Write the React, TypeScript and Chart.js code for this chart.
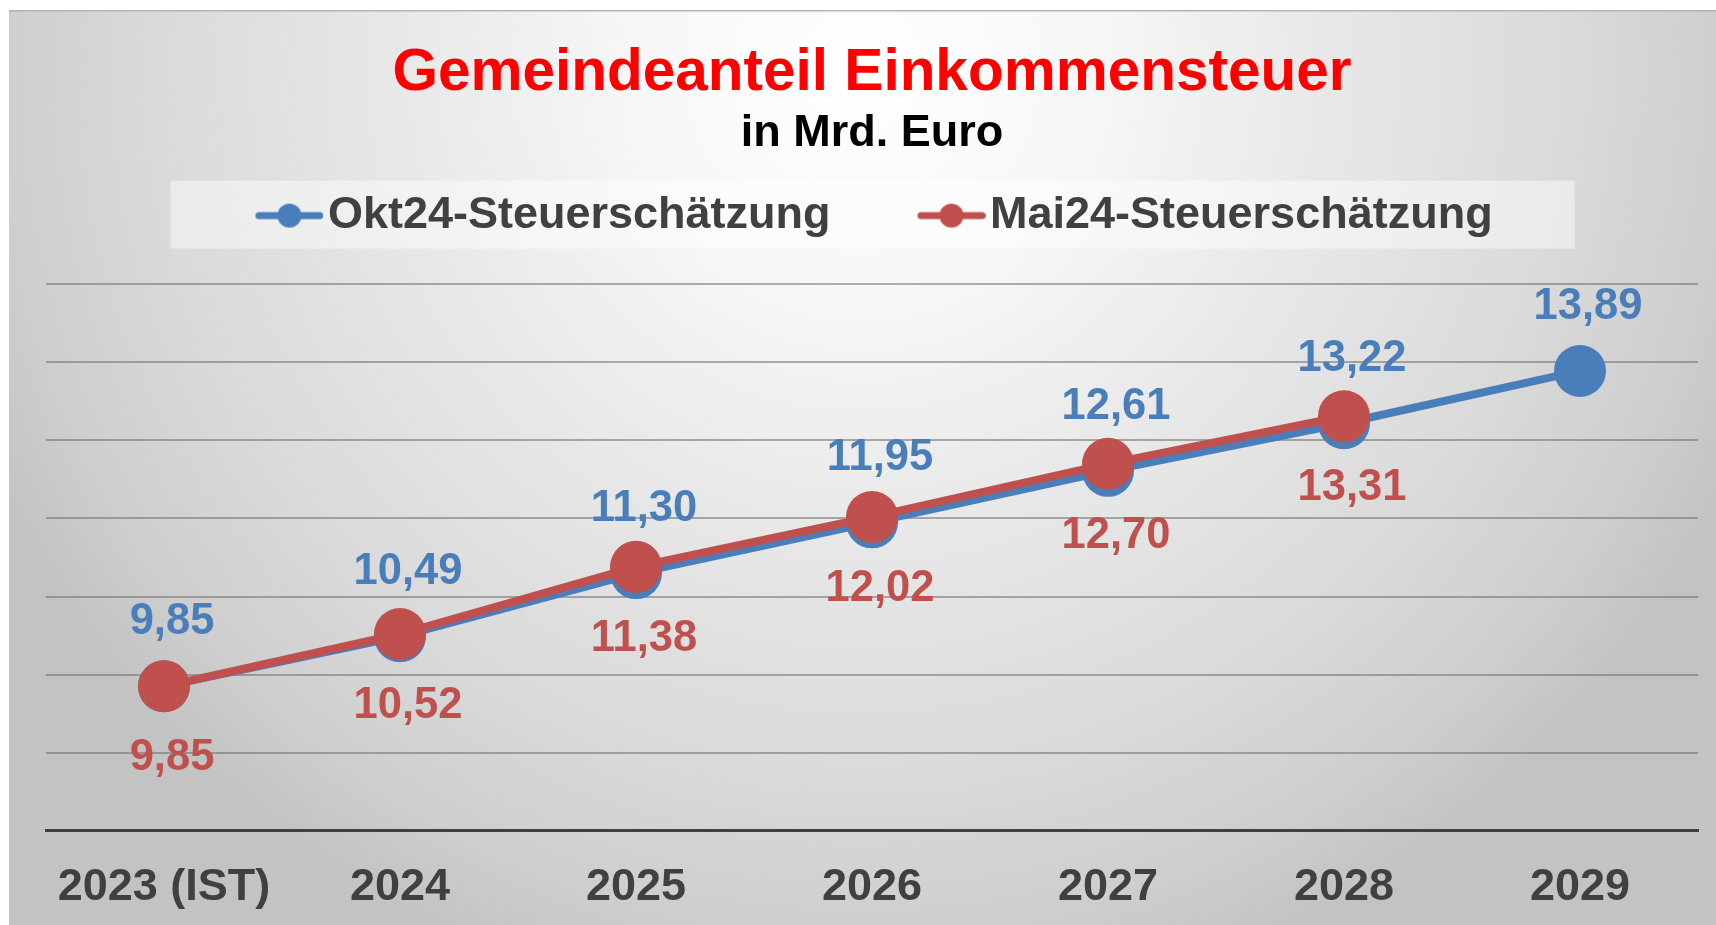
import React, { useEffect, useRef } from 'react';
import { Chart, registerables } from 'chart.js';

Chart.register(...registerables);

// ---- data ----
const categories = ['2023 (IST)', '2024', '2025', '2026', '2027', '2028', '2029'];
const okt24Values: (number | null)[] = [9.85, 10.49, 11.3, 11.95, 12.61, 13.22, 13.89];
const mai24Values: (number | null)[] = [9.85, 10.52, 11.38, 12.02, 12.7, 13.31, null];
const seriesNames = ['Okt24-Steuerschätzung', 'Mai24-Steuerschätzung'];
const yMin = 8;
const yMax = 15;
const yStep = 1;
const titleText = 'Gemeindeanteil Einkommensteuer';
const subtitleText = 'in Mrd. Euro';

// ---- styles ----
const BLUE = '#4A7EBB';
const RED = '#C0504D';
const FONT = '"Liberation Sans", Arial, Helvetica, sans-serif';
const W = 1708;
const H = 917;

function makeMarker(color: string): HTMLCanvasElement {
  const w = 138;
  const h = 30;
  const c = document.createElement('canvas');
  c.width = w;
  c.height = h;
  const g = c.getContext('2d')!;
  g.strokeStyle = color;
  g.lineWidth = 7;
  g.lineCap = 'round';
  g.beginPath();
  g.moveTo(w - 68 + 3.5, h / 2);
  g.lineTo(w - 3.5, h / 2);
  g.stroke();
  g.fillStyle = color;
  g.beginPath();
  g.arc(w - 34, h / 2, 12, 0, Math.PI * 2);
  g.fill();
  return c;
}

const backgroundPlugin = {
  id: 'panelBackground',
  beforeDraw(chart: any) {
    const { ctx, width, height } = chart;
    ctx.save();
    ctx.fillStyle = '#ffffff';
    ctx.fillRect(0, 0, width, height);
    const cx = 854;
    const cy = 60;
    const g = ctx.createRadialGradient(cx, cy, 0, cx, cy, 960);
    g.addColorStop(0, '#ffffff');
    g.addColorStop(0.25, '#f6f6f6');
    g.addColorStop(0.5, '#e7e7e7');
    g.addColorStop(0.75, '#d9d9d9');
    g.addColorStop(0.9, '#cecece');
    g.addColorStop(1, '#c3c3c3');
    ctx.fillStyle = g;
    ctx.fillRect(1, 2, width - 1, height - 2);
    ctx.fillStyle = '#b4b4b4';
    ctx.fillRect(1, 2, width - 1, 1.5);
    // legend backdrop
    const lg = chart.legend;
    if (lg && lg.legendHitBoxes && lg.legendHitBoxes.length) {
      const hb = lg.legendHitBoxes;
      const left = hb[0].left - 33;
      const right = hb[hb.length - 1].left + hb[hb.length - 1].width + 82;
      const top = hb[0].top - 12.5;
      ctx.fillStyle = 'rgba(255,255,255,0.45)';
      ctx.fillRect(left, top, right - left, 68);
    }
    ctx.restore();
  },
};

const valueLabelPlugin = {
  id: 'valueLabels',
  afterDatasetsDraw(chart: any) {
    const ctx = chart.ctx;
    ctx.save();
    ctx.font = `bold 43.5px ${FONT}`;
    ctx.textAlign = 'center';
    ctx.textBaseline = 'middle';
    chart.data.datasets.forEach((ds: any, i: number) => {
      const meta = chart.getDatasetMeta(i);
      const above = ds.labelPos === 'above';
      meta.data.forEach((pt: any, j: number) => {
        const v = ds.data[j];
        if (v === null || v === undefined) return;
        ctx.fillStyle = ds.borderColor;
        ctx.fillText(v.toFixed(2).replace('.', ','), pt.x + 8, pt.y + (above ? -64 : 72));
      });
    });
    ctx.restore();
  },
};

export default function App() {
  const ref = useRef<HTMLCanvasElement | null>(null);

  useEffect(() => {
    if (!ref.current) return;
    const blueMarker = makeMarker(BLUE);
    const redMarker = makeMarker(RED);
    const chart = new Chart(ref.current, {
      type: 'line',
      data: {
        labels: categories,
        datasets: [
          {
            label: seriesNames[0],
            data: okt24Values,
            borderColor: BLUE,
            backgroundColor: BLUE,
            pointBackgroundColor: BLUE,
            borderWidth: 8,
            pointRadius: 26,
            pointHoverRadius: 26,
            pointBorderWidth: 0,
            tension: 0,
            order: 1,
            labelPos: 'above',
          } as any,
          {
            label: seriesNames[1],
            data: mai24Values,
            borderColor: RED,
            backgroundColor: RED,
            pointBackgroundColor: RED,
            borderWidth: 8,
            pointRadius: 26,
            pointHoverRadius: 26,
            pointBorderWidth: 0,
            tension: 0,
            order: 0,
            labelPos: 'below',
          } as any,
        ],
      },
      options: {
        responsive: false,
        maintainAspectRatio: false,
        animation: false,
        devicePixelRatio: 1,
        events: [],
        layout: { autoPadding: false, padding: { top: 0, left: -10, right: 18, bottom: 14 } },
        plugins: {
          tooltip: { enabled: false },
          title: {
            display: true,
            text: titleText,
            color: '#FF0000',
            fullSize: false,
            font: { size: 58.5, weight: 'bold', family: FONT, lineHeight: 1.2 },
            padding: { top: 30.4, bottom: 0 },
          },
          subtitle: {
            display: true,
            text: subtitleText,
            color: '#000000',
            fullSize: false,
            font: { size: 45, weight: 'bold', family: FONT, lineHeight: 1.1 },
            padding: { top: 0, bottom: 0 },
          },
          legend: {
            display: true,
            position: 'top',
            fullSize: true,
            labels: {
              usePointStyle: true,
              pointStyleWidth: 102,
              padding: 35,
              color: '#404040',
              font: { size: 45, weight: 'bold', family: FONT },
              generateLabels: () => [
                {
                  text: seriesNames[0],
                  pointStyle: blueMarker,
                  fillStyle: BLUE,
                  strokeStyle: BLUE,
                  lineWidth: 0,
                  hidden: false,
                  datasetIndex: 0,
                  fontColor: '#404040',
                } as any,
                {
                  text: seriesNames[1],
                  pointStyle: redMarker,
                  fillStyle: RED,
                  strokeStyle: RED,
                  lineWidth: 0,
                  hidden: false,
                  datasetIndex: 1,
                  fontColor: '#404040',
                } as any,
              ],
            },
          },
        },
        scales: {
          x: {
            type: 'category',
            position: 'bottom',
            offset: true,
            grid: { display: false, drawTicks: false },
            border: { display: true, color: '#404040', width: 3 },
            ticks: {
              color: '#404040',
              font: { size: 45, weight: 'bold', family: FONT, lineHeight: 2.2 },
              padding: 7.3,
              maxRotation: 0,
              autoSkip: false,
            },
            afterFit: (scale: any) => {
              scale.height = 80.3;
            },
          },
          xTop: {
            type: 'category',
            position: 'top',
            display: true,
            grid: { display: false, drawTicks: false },
            border: { display: false },
            ticks: { display: false },
            afterFit: (scale: any) => {
              scale.height = 36.2;
            },
          },
          y: {
            type: 'linear',
            min: yMin,
            max: yMax,
            grid: {
              drawTicks: false,
              lineWidth: 2,
              color: (c: any) =>
                c.tick && c.tick.value === yMin ? 'rgba(0,0,0,0)' : 'rgba(110,110,110,0.55)',
            },
            border: { display: false },
            ticks: { display: false, stepSize: yStep },
            afterFit: (scale: any) => {
              scale.width = 48;
            },
          },
        },
      } as any,
      plugins: [backgroundPlugin, valueLabelPlugin],
    });
    return () => chart.destroy();
  }, []);

  return (
    <div style={{ position: 'absolute', left: 8, top: 8 }}>
      <canvas ref={ref} width={W} height={H} style={{ display: 'block' }} />
    </div>
  );
}
